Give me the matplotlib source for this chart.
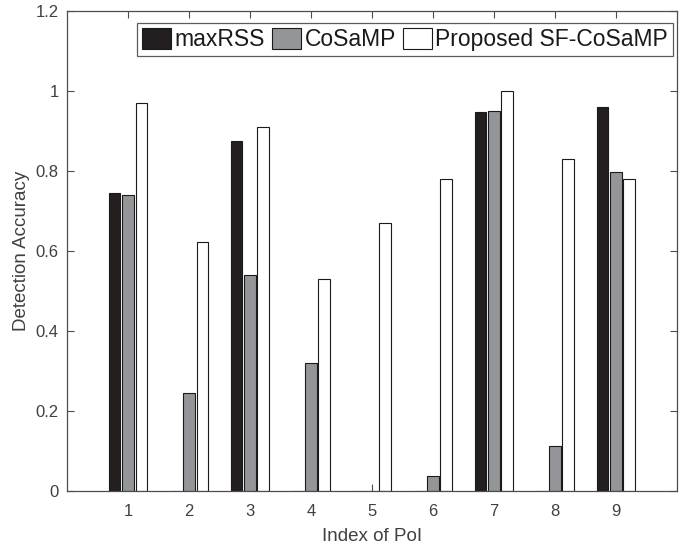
import matplotlib
matplotlib.use("Agg")
import matplotlib.pyplot as plt
import numpy as np

plt.rcParams['font.family'] = ['Liberation Sans', 'DejaVu Sans']

categories = [1, 2, 3, 4, 5, 6, 7, 8, 9]
series_names = ["maxRSS", "CoSaMP", "Proposed SF-CoSaMP"]
maxrss = [0.745, 0.0, 0.874, 0.0, 0.0, 0.0, 0.948, 0.0, 0.960]
cosamp = [0.741, 0.246, 0.540, 0.320, 0.0, 0.038, 0.950, 0.112, 0.797]
proposed = [0.970, 0.622, 0.910, 0.531, 0.671, 0.781, 1.000, 0.831, 0.781]
yticks = [0, 0.2, 0.4, 0.6, 0.8, 1, 1.2]
ytick_labels = ["0", "0.2", "0.4", "0.6", "0.8", "1", "1.2"]

colors = ["#231f20", "#939598", "#ffffff"]
axis_col = "#4d4d4d"
text_col = "#404040"

fig = plt.figure(figsize=(6.97, 5.48), dpi=100)
ax = fig.add_axes([0.096, 0.104, 0.875, 0.876])

x = np.array(categories, dtype=float)
width = 0.19
offsets = [-0.22, 0.0, 0.22]
for vals, off, c, name in zip([maxrss, cosamp, proposed], offsets, colors, series_names):
    ax.bar(x + off, vals, width=width, color=c, edgecolor="#1a1a1a",
           linewidth=0.8, label=name, zorder=2)

ax.set_xlim(0, 10)
ax.set_ylim(0, 1.2)
ax.set_xticks(categories)
ax.set_xticklabels([str(c) for c in categories])
ax.set_yticks(yticks)
ax.set_yticklabels(ytick_labels)
ax.tick_params(direction="in", length=5, width=0.8, colors=axis_col,
               labelcolor=text_col, labelsize=12, top=True, right=True)
ax.tick_params(axis="x", pad=9)
ax.tick_params(axis="y", pad=6)
for s in ax.spines.values():
    s.set_color(axis_col)
    s.set_linewidth(0.9)

ax.set_xlabel("Index of PoI", fontsize=13.5, color=text_col, labelpad=7)
ax.set_ylabel("Detection Accuracy", fontsize=13.5, color=text_col, labelpad=4)

leg = ax.legend(loc="upper right", bbox_to_anchor=(0.9934, 0.974), ncol=3,
                fontsize=16.5, frameon=True, fancybox=False,
                handlelength=1.3, handleheight=1.0, handletextpad=0.13,
                columnspacing=0.3, borderpad=0.2, borderaxespad=0.0)
leg.get_frame().set_edgecolor("#333333")
leg.get_frame().set_linewidth(0.9)
for t in leg.get_texts():
    t.set_color("#1a1a1a")

fig.savefig("out.png", dpi=100)
